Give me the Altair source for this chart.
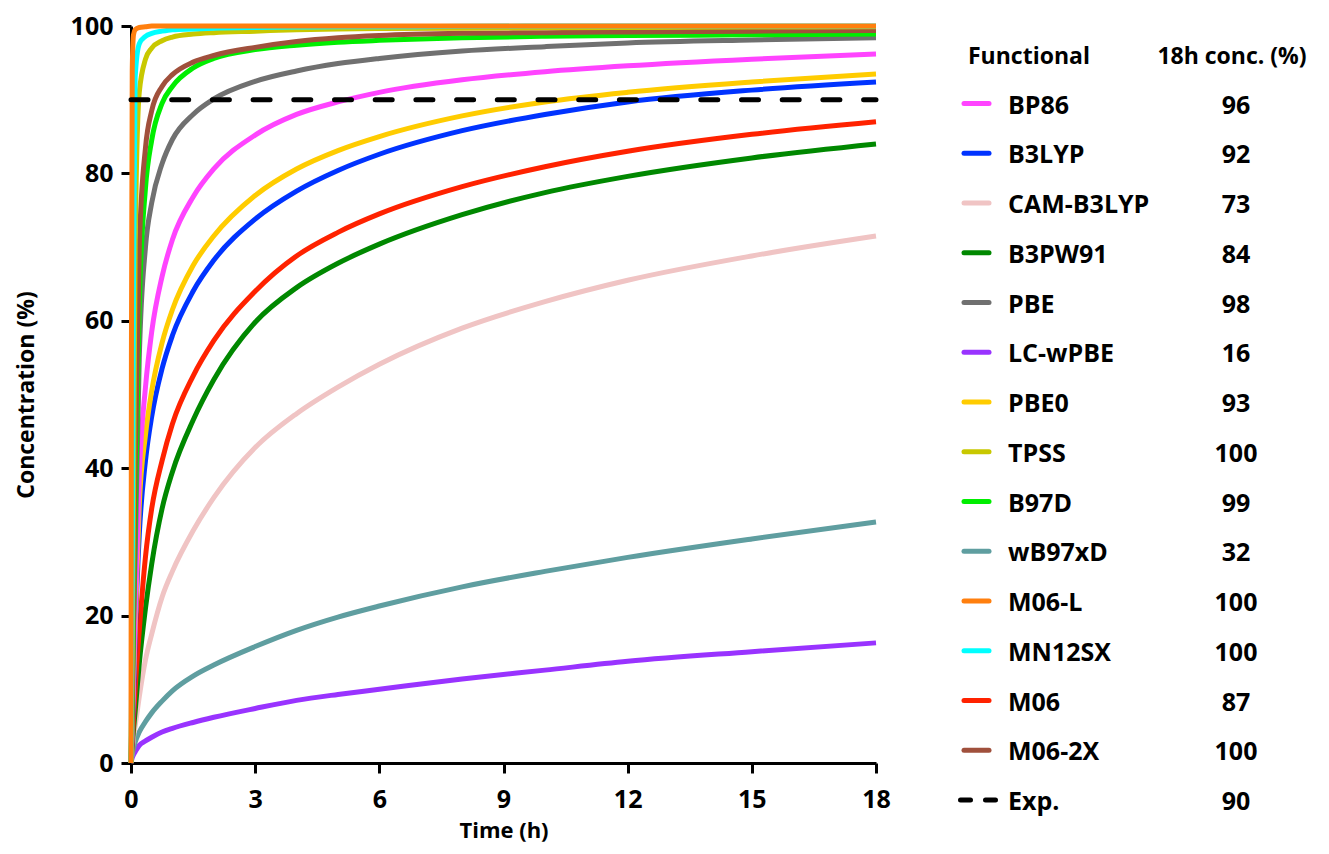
import altair as alt
import pandas as pd

# ---------------- data ----------------
T = [0, 0.01, 0.03, 0.06, 0.1, 0.2, 0.35, 0.5, 0.75, 1, 1.5, 2, 3, 4, 5, 6, 8, 10, 12, 15, 18]

NAMES = ["BP86", "B3LYP", "CAM-B3LYP", "B3PW91", "PBE", "LC-wPBE", "PBE0",
         "TPSS", "B97D", "wB97xD", "M06-L", "MN12SX", "M06", "M06-2X"]
COLORS = ["#FF44FF", "#0033FF", "#F0C4C4", "#008800", "#707070", "#9933FF", "#FFCC00",
          "#C8C800", "#00EE00", "#5F9EA0", "#FF7F0E", "#00FFFF", "#FF2200", "#A0503C"]
CONC = ["96", "92", "73", "84", "98", "16", "93", "100", "99", "32", "100", "100", "87", "100"]

BP86 = [0, 1.5, 5, 11, 20, 39, 51, 58.5, 66, 71, 76.8, 80.6, 85.2, 88, 89.7, 91, 92.7, 93.8, 94.6, 95.5, 96.2]
B3LYP = [0, 1.5, 4.5, 9, 17, 31, 41, 47, 53.5, 58, 64, 68.2, 73.8, 77.6, 80.4, 82.6, 85.8, 88, 89.7, 91.3, 92.4]
CAM_B3LYP = [0, 0.6, 1.8, 3.5, 5, 9, 14, 17.5, 22.5, 26, 31.5, 36, 42.8, 47.4, 51, 54.1, 59, 62.6, 65.5, 68.8, 71.5]
B3PW91 = [0, 0.8, 2.4, 4.5, 7, 13.5, 21, 27, 34.5, 39.5, 46.5, 52, 59.8, 64.5, 67.8, 70.4, 74.4, 77.4, 79.6, 82.1, 84]
PBE = [0, 3, 10, 19, 28, 55, 70, 76, 81.3, 84.6, 88, 90.1, 92.5, 93.9, 94.9, 95.6, 96.6, 97.2, 97.7, 98.1, 98.4]
LC_WPBE = [0, 0.3, 0.7, 1.1, 1.5, 2.4, 3.0, 3.5, 4.2, 4.7, 5.5, 6.2, 7.4, 8.5, 9.3, 10, 11.4, 12.6, 13.8, 15.1, 16.3]
PBE0 = [0, 2, 5.5, 11, 18, 35, 44.5, 50.5, 57, 61.5, 67.5, 71.5, 77, 80.6, 83.1, 85, 87.8, 89.7, 91, 92.4, 93.5]
TPSS = [0, 5, 15, 35, 70, 91, 95.5, 97, 98, 98.5, 98.9, 99.1, 99.3, 99.5, 99.6, 99.65, 99.7, 99.75, 99.8, 99.85, 99.9]
B97D = [0, 2, 7, 18, 33, 62, 78, 84.5, 89.5, 91.8, 94.3, 95.6, 96.8, 97.4, 97.8, 98.05, 98.4, 98.6, 98.7, 98.8, 98.9]
WB97XD = [0, 0.5, 1.2, 2, 2.8, 4.2, 5.6, 6.8, 8.4, 9.8, 11.8, 13.3, 15.8, 18, 19.8, 21.3, 23.9, 26, 27.9, 30.4, 32.7]
M06_L = [0, 55, 94, 98.8, 99.5, 99.8, 99.9, 100, 100, 100, 100, 100, 100, 100, 100, 100, 100, 100, 100, 100, 100]
MN12SX = [0, 8, 25, 65, 93, 97.6, 98.6, 99, 99.3, 99.5, 99.6, 99.7, 99.8, 99.85, 99.9, 99.9, 99.95, 100, 100, 100, 100]
M06 = [0, 1, 3, 6, 10, 18, 28, 34.5, 41, 46, 52.5, 57.3, 64, 68.8, 72, 74.5, 78.2, 80.9, 83, 85.3, 87.0]
M06_2X = [0, 3, 10, 22, 40, 70, 83.5, 88.5, 91.8, 93.4, 95.1, 96, 97.1, 97.9, 98.4, 98.7, 99, 99.1, 99.2, 99.3, 99.4]

SERIES = {"BP86": BP86, "B3LYP": B3LYP, "CAM-B3LYP": CAM_B3LYP, "B3PW91": B3PW91,
          "PBE": PBE, "LC-wPBE": LC_WPBE, "PBE0": PBE0, "TPSS": TPSS, "B97D": B97D,
          "wB97xD": WB97XD, "M06-L": M06_L, "MN12SX": MN12SX, "M06": M06, "M06-2X": M06_2X}
DRAW_ORDER = ["LC-wPBE", "wB97xD", "CAM-B3LYP", "B3PW91", "M06", "B3LYP", "PBE0", "BP86",
              "PBE", "B97D", "M06-2X", "TPSS", "MN12SX", "M06-L"]

EXP_T = [0, 18]
EXP_V = [90, 90]
EXP_NAME = "Exp."
EXP_CONC = "90"
HEADER_LEFT = "Functional"
HEADER_RIGHT = "18h conc. (%)"

# ---------------- tables ----------------
rows = []
for n in DRAW_ORDER:
    for t, v in zip(T, SERIES[n]):
        rows.append({"name": n, "t": t, "v": v})
curves = pd.DataFrame(rows)
exp_df = pd.DataFrame({"t": EXP_T, "v": EXP_V})
leg = pd.DataFrame({"name": NAMES, "conc": CONC, "row": list(range(len(NAMES)))})
leg_text = pd.DataFrame({"name": NAMES + [EXP_NAME], "conc": CONC + [EXP_CONC],
                         "row": list(range(len(NAMES) + 1))})
exp_leg = pd.DataFrame({"row": [len(NAMES)]})

FONT = "Open Sans"
xscale = alt.Scale(domain=[0, 18], nice=False)
yscale = alt.Scale(domain=[0, 100], nice=False)
color_scale = alt.Scale(domain=NAMES, range=COLORS)
leg_y = alt.Scale(domain=[0, len(NAMES)], range=[77.5, 774])

common_axis = dict(labelFont=FONT, labelFontSize=25, labelFontWeight="bold", labelColor="black",
                   titleFont=FONT, titleFontWeight="bold", titleColor="black",
                   domainColor="black", domainWidth=3, tickColor="black", tickWidth=3, tickSize=10,
                   grid=False, labelFlush=False, labelOverlap=False)

x_axis = alt.Axis(values=[0, 3, 6, 9, 12, 15, 18], title="Time (h)", labelPadding=14,
                  titlePadding=8, titleFontSize=22, **common_axis)
y_axis = alt.Axis(values=[0, 20, 40, 60, 80, 100], title="Concentration (%)", labelPadding=8,
                  titlePadding=32, titleFontSize=23, **common_axis)

lines = alt.Chart(curves).mark_line(interpolate="monotone", strokeWidth=5).encode(
    x=alt.X("t:Q", scale=xscale, axis=x_axis),
    y=alt.Y("v:Q", scale=yscale, axis=y_axis),
    color=alt.Color("name:N", scale=color_scale, legend=None),
)

exp_line = alt.Chart(exp_df).mark_line(color="black", strokeWidth=5, strokeDash=[17, 23.7],
                                       strokeCap="round").encode(
    x=alt.X("t:Q", scale=xscale),
    y=alt.Y("v:Q", scale=yscale, axis=None),
)

swatch = alt.Chart(leg).mark_rule(strokeWidth=5, strokeCap="round").encode(
    x=alt.value(833), x2=alt.value(858),
    y=alt.Y("row:Q", scale=leg_y, axis=None),
    color=alt.Color("name:N", scale=color_scale, legend=None),
)
exp_swatch = alt.Chart(exp_leg).mark_rule(strokeWidth=5, strokeCap="round", color="black",
                                          strokeDash=[10, 15]).encode(
    x=alt.value(829.5), x2=alt.value(864.5),
    y=alt.Y("row:Q", scale=leg_y, axis=None),
)
name_text = alt.Chart(leg_text).mark_text(align="left", baseline="middle", font=FONT, fontSize=25,
                                           fontWeight="bold", color="black", dy=2).encode(
    x=alt.value(877), y=alt.Y("row:Q", scale=leg_y, axis=None), text="name:N")
conc_text = alt.Chart(leg_text).mark_text(align="center", baseline="middle", font=FONT, fontSize=25,
                                           fontWeight="bold", color="black", dy=2).encode(
    x=alt.value(1105), y=alt.Y("row:Q", scale=leg_y, axis=None), text="conc:N")
head_l = alt.Chart(pd.DataFrame({"h": [HEADER_LEFT]})).mark_text(
    align="left", baseline="middle", font=FONT, fontSize=23, fontWeight="bold", color="black").encode(
    x=alt.value(837), y=alt.value(31), text="h:N")
head_r = alt.Chart(pd.DataFrame({"h": [HEADER_RIGHT]})).mark_text(
    align="center", baseline="middle", font=FONT, fontSize=23, fontWeight="bold", color="black").encode(
    x=alt.value(1101), y=alt.value(31), text="h:N")

chart = alt.layer(lines, exp_line, swatch, exp_swatch, name_text, conc_text, head_l, head_r).resolve_scale(
    y="independent"
).properties(
    width=745, height=737,
    autosize=alt.AutoSizeParams(type="none"),
    padding={"left": 123, "top": 18, "right": 445, "bottom": 83},
).configure_view(stroke=None)

chart.save("out.html", embed_options={"renderer": "svg", "actions": False})
